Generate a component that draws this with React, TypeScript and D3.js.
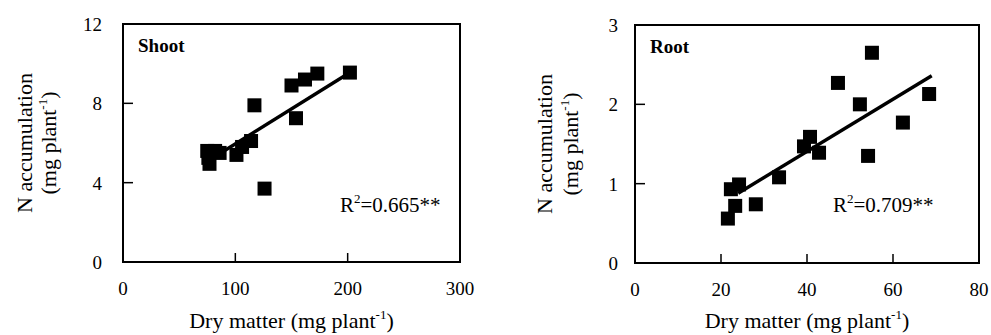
import { useRef, useEffect } from "react";
import * as d3 from "d3";

// shoot panel: dry matter (mg/plant) vs N accumulation (mg/plant)
const shootDry = [75, 76, 77, 82, 86, 101, 106, 114, 117, 126, 150, 154, 162, 173, 202];
const shootN = [5.6, 5.25, 4.95, 5.6, 5.5, 5.4, 5.8, 6.1, 7.9, 3.7, 8.9, 7.25, 9.2, 9.5, 9.55];
const shootFit = [[87, 5.5], [202, 9.55]];

// root panel
const rootDry = [21.6, 22.3, 23.3, 24.2, 28.1, 33.5, 39.3, 40.7, 42.8, 47.2, 52.3, 54.2, 55.1, 62.3, 68.4];
const rootN = [0.56, 0.93, 0.72, 0.99, 0.74, 1.08, 1.47, 1.59, 1.39, 2.27, 2.0, 1.35, 2.65, 1.77, 2.13];
const rootFit = [[24, 0.88], [69, 2.36]];

const shootXTicks = [0, 100, 200, 300];
const shootYTicks = [0, 4, 8, 12];
const rootXTicks = [0, 20, 40, 60, 80];
const rootYTicks = [0, 1, 2, 3];

const panels = [
  { name: "Shoot", r2: "0.665**", xs: shootDry, ys: shootN, fit: shootFit, xTicks: shootXTicks, yTicks: shootYTicks,
    left: 123, right: 460, top: 24, bottom: 262, tickLabelGap: 21, yLab1: -91, yLab2: -67, r2x: 340 },
  { name: "Root", r2: "0.709**", xs: rootDry, ys: rootN, fit: rootFit, xTicks: rootXTicks, yTicks: rootYTicks,
    left: 635, right: 979, top: 25, bottom: 263, tickLabelGap: 17, yLab1: -83, yLab2: -57, r2x: 833 },
];

const FONT = "'Liberation Serif', 'Times New Roman', serif";

export default function App() {
  const svgRef = useRef<SVGSVGElement>(null);

  useEffect(() => {
    if (!svgRef.current) return;
    const svg = d3.select(svgRef.current);
    svg.selectAll("*").remove();

    panels.forEach((p) => {
      const x = d3.scaleLinear().domain([p.xTicks[0], p.xTicks[p.xTicks.length - 1]]).range([p.left, p.right]);
      const y = d3.scaleLinear().domain([p.yTicks[0], p.yTicks[p.yTicks.length - 1]]).range([p.bottom, p.top]);
      const g = svg.append("g").attr("font-family", FONT).attr("fill", "#000");

      // frame
      g.append("rect").attr("x", p.left).attr("y", p.top).attr("width", p.right - p.left).attr("height", p.bottom - p.top)
        .attr("fill", "none").attr("stroke", "#000").attr("stroke-width", 2);

      // inward ticks
      p.xTicks.slice(1, -1).forEach((t) => {
        g.append("line").attr("x1", x(t)).attr("x2", x(t)).attr("y1", p.bottom).attr("y2", p.bottom - 9)
          .attr("stroke", "#000").attr("stroke-width", 1.5);
      });
      p.yTicks.slice(1, -1).forEach((t) => {
        g.append("line").attr("x1", p.left).attr("x2", p.left + 10).attr("y1", y(t)).attr("y2", y(t))
          .attr("stroke", "#000").attr("stroke-width", 1.5);
      });

      // tick labels
      p.xTicks.forEach((t) => {
        g.append("text").attr("x", x(t)).attr("y", p.bottom + 33).attr("text-anchor", "middle")
          .attr("font-size", 19).text(t);
      });
      p.yTicks.forEach((t) => {
        g.append("text").attr("x", p.left - p.tickLabelGap).attr("y", y(t) + 7).attr("text-anchor", "end")
          .attr("font-size", 19).text(t);
      });

      // x title
      const xt = g.append("text").attr("x", (p.left + p.right) / 2).attr("y", 328).attr("text-anchor", "middle")
        .attr("font-size", 22);
      xt.append("tspan").text("Dry matter (mg plant");
      xt.append("tspan").attr("dy", -9).attr("font-size", 13).text("-1");
      xt.append("tspan").attr("dy", 9).text(")");

      // y title, two lines
      const cy = (p.top + p.bottom) / 2;
      g.append("text").attr("transform", `translate(${p.left + p.yLab1},${cy}) rotate(-90)`)
        .attr("text-anchor", "middle").attr("font-size", 22).text("N accumulation");
      const yt = g.append("text").attr("transform", `translate(${p.left + p.yLab2},${cy}) rotate(-90)`)
        .attr("text-anchor", "middle").attr("font-size", 22);
      yt.append("tspan").text("(mg plant");
      yt.append("tspan").attr("dy", -9).attr("font-size", 13).text("-1");
      yt.append("tspan").attr("dy", 9).text(")");

      // panel name
      g.append("text").attr("x", p.left + 15).attr("y", p.top + 28).attr("font-size", 19)
        .attr("font-weight", "bold").text(p.name);

      // R^2
      const rt = g.append("text").attr("x", p.r2x).attr("y", 212).attr("font-size", 21);
      rt.append("tspan").text("R");
      rt.append("tspan").attr("dy", -9).attr("font-size", 13).text("2");
      rt.append("tspan").attr("dy", 9).text("=" + p.r2);

      // regression line
      const line = d3.line<number[]>().x((d) => x(d[0])).y((d) => y(d[1]));
      g.append("path").datum(p.fit).attr("d", line).attr("fill", "none").attr("stroke", "#000").attr("stroke-width", 3.5);

      // points
      const s = 14;
      p.xs.forEach((v, i) => {
        g.append("rect").attr("x", x(v) - s / 2).attr("y", y(p.ys[i]) - s / 2).attr("width", s).attr("height", s)
          .attr("fill", "#000");
      });
    });
  }, []);

  return (
    <div style={{ position: "absolute", left: 0, top: 0 }}>
      <svg ref={svgRef} width={991} height={335} style={{ display: "block", background: "#fff" }} />
    </div>
  );
}
